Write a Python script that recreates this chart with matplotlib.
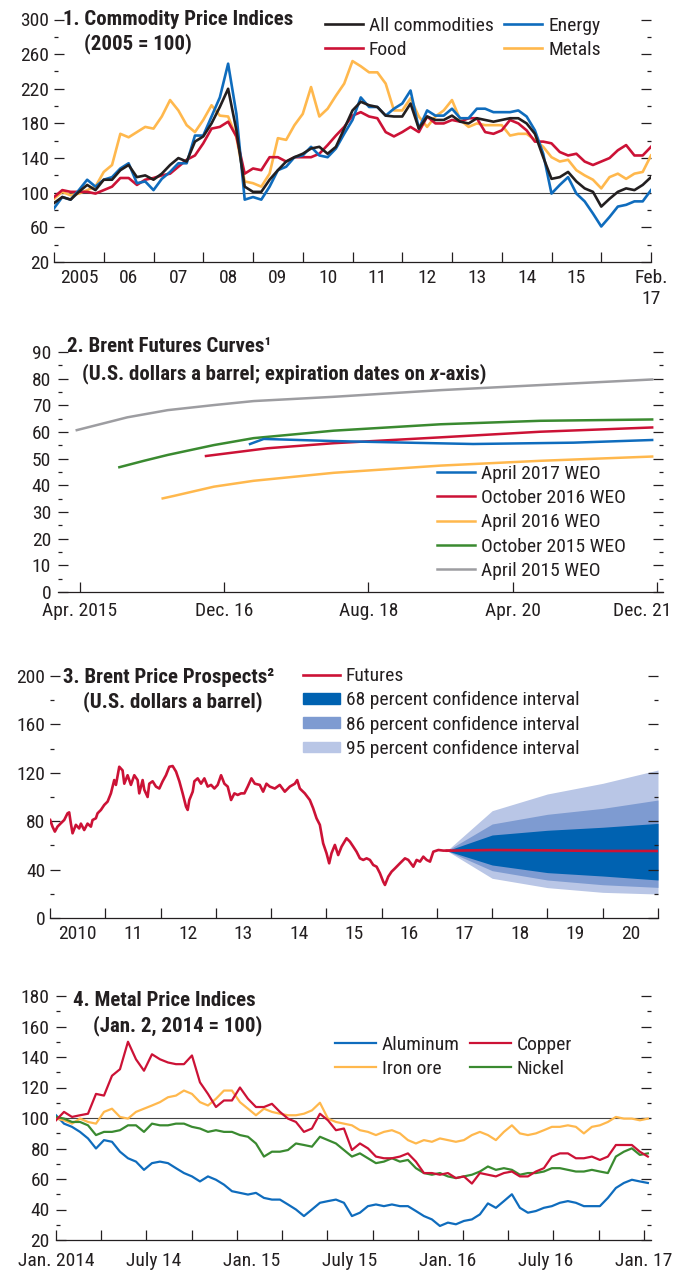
import numpy as np
import matplotlib.pyplot as plt
from matplotlib.lines import Line2D
from matplotlib.patches import Patch

plt.rcParams['font.family'] = ['Roboto Condensed', 'Liberation Sans Narrow',
                               'Liberation Sans', 'DejaVu Sans']
plt.rcParams['font.stretch'] = 'condensed'
plt.rcParams['font.size'] = 14
for k in ('text.color', 'xtick.color', 'ytick.color', 'axes.edgecolor'):
    plt.rcParams[k] = '#231f20'

BLACK = '#231f20'
BLUE = '#0f6cbd'
RED = '#cc1236'
YELLOW = '#ffb84d'
GREEN = '#3a8a30'
GRAY = '#9d9da1'
FAN68 = '#0062b1'
FAN86 = '#7e9bd1'
FAN95 = '#b9c6e6'
FS = 14      # tick and legend text
TFS = 15     # panel titles

# ---- panel 1: commodity price indices, every two months 2005 - Jan 2017
x1 = 2005 + np.arange(73) / 6
all_commod = [88, 95, 92, 101, 109, 103, 115, 115, 126, 132, 118, 120, 115, 122, 132, 140,
              136, 159, 165, 180, 199, 220, 172, 107, 101, 101, 115, 126, 136, 141, 145, 151,
              153, 145, 153, 174, 195, 205, 201, 199, 189, 188, 188, 203, 174, 188, 184, 184,
              189, 182, 180, 186, 184, 182, 184, 186, 186, 180, 168, 141, 116, 118, 124, 113,
              105, 101, 84, 93, 101, 105, 103, 109, 118]
energy = [82, 95, 92, 103, 115, 107, 115, 118, 128, 134, 111, 113, 103, 116, 124, 134,
          134, 166, 166, 188, 210, 249, 191, 92, 95, 92, 107, 126, 130, 141, 143, 153,
          143, 141, 151, 168, 184, 210, 199, 199, 189, 197, 203, 218, 174, 195, 189, 189,
          197, 186, 186, 197, 197, 193, 193, 193, 195, 188, 172, 145, 99, 109, 118, 99,
          90, 76, 61, 72, 84, 86, 90, 90, 103]
food = [95, 103, 101, 101, 101, 99, 103, 107, 117, 117, 109, 115, 117, 120, 122, 130,
        138, 143, 157, 174, 176, 182, 165, 122, 128, 126, 141, 141, 136, 141, 141, 141,
        145, 155, 166, 176, 189, 193, 188, 186, 170, 165, 170, 176, 170, 188, 180, 180,
        184, 182, 186, 186, 170, 168, 172, 184, 180, 172, 159, 159, 157, 147, 143, 145,
        136, 132, 136, 140, 149, 155, 143, 143, 153]
metals = [93, 101, 97, 99, 103, 107, 124, 132, 168, 164, 170, 176, 174, 188, 207, 195,
          178, 170, 184, 201, 189, 188, 164, 113, 111, 107, 122, 163, 161, 178, 191, 222,
          188, 197, 212, 226, 252, 246, 239, 239, 226, 195, 195, 209, 188, 176, 188, 195,
          207, 184, 176, 180, 178, 178, 178, 166, 168, 168, 161, 153, 141, 136, 138, 126,
          120, 115, 105, 118, 122, 116, 122, 124, 143]
p1_labels = ['2005', '06', '07', '08', '09', '10', '11', '12', '13', '14', '15']

# ---- panel 2: Brent futures curves (x = months since Jan 2015)
apr15_m = [2.6, 9.6, 15.2, 21.6, 27.1, 38.2, 53, 66.8, 82.3]
apr15_v = [60.7, 65.5, 68.2, 70.1, 71.6, 73.2, 75.7, 77.6, 79.7]
oct15_m = [8.5, 11.9, 15.2, 21.6, 27.1, 38.2, 53, 66.8, 82.3]
oct15_v = [46.8, 49.2, 51.4, 55.1, 57.7, 60.5, 62.9, 64.2, 64.7]
apr16_m = [14.5, 16, 21.6, 27.1, 38.2, 53, 66.8, 82.3]
apr16_v = [35.1, 36.0, 39.5, 41.7, 44.7, 47.4, 49.2, 50.8]
oct16_m = [20.5, 29, 38.2, 53, 66.8, 82.3]
oct16_v = [51.0, 53.9, 55.8, 58.0, 60.1, 61.7]
apr17_m = [26.6, 28.5, 38.2, 48.4, 57.5, 71.4, 82.3]
apr17_v = [55.5, 57.4, 56.6, 56.0, 55.5, 56.0, 57.0]
p2_ticks = [3, 23, 43, 63, 83]
p2_labels = ['Apr. 2015', 'Dec. 16', 'Aug. 18', 'Apr. 20', 'Dec. 21']

# ---- panel 3: Brent price and prospects
brent_t = [2010.003, 2010.045, 2010.088, 2010.136, 2010.196, 2010.257, 2010.317, 2010.347,
           2010.377, 2010.408, 2010.468, 2010.528, 2010.559, 2010.619, 2010.679, 2010.740,
           2010.770, 2010.830, 2010.860, 2010.921, 2010.981, 2011.042, 2011.102, 2011.162,
           2011.193, 2011.253, 2011.313, 2011.344, 2011.404, 2011.464, 2011.525, 2011.585,
           2011.615, 2011.676, 2011.706, 2011.766, 2011.796, 2011.857, 2011.917, 2011.978,
           2012.038, 2012.098, 2012.159, 2012.219, 2012.280, 2012.340, 2012.400, 2012.461,
           2012.491, 2012.521, 2012.582, 2012.612, 2012.672, 2012.732, 2012.793, 2012.853,
           2012.914, 2012.974, 2013.034, 2013.095, 2013.155, 2013.215, 2013.276, 2013.336,
           2013.396, 2013.457, 2013.517, 2013.577, 2013.644, 2013.705, 2013.795, 2013.856,
           2013.916, 2013.976, 2014.067, 2014.157, 2014.248, 2014.339, 2014.429, 2014.472,
           2014.520, 2014.610, 2014.701, 2014.761, 2014.822, 2014.882, 2014.942, 2015.003,
           2015.051, 2015.093, 2015.154, 2015.214, 2015.275, 2015.365, 2015.426, 2015.486,
           2015.546, 2015.607, 2015.667, 2015.728, 2015.788, 2015.848, 2015.909, 2015.969,
           2016.029, 2016.060, 2016.120, 2016.180, 2016.241, 2016.331, 2016.422, 2016.482,
           2016.573, 2016.633, 2016.694, 2016.754, 2016.814, 2016.875, 2016.935, 2017.026,
           2017.116, 2017.237]
brent_v = [81, 75.5, 71.4, 75.5, 78.3, 81, 86.5, 87.3, 78.3, 70, 77, 74, 78, 72.7, 78, 75.5,
           81, 82.4, 86.5, 89.3, 93.4, 96.2, 103, 114, 110, 125, 122, 111, 118, 110, 118, 114,
           103, 114, 106, 100, 111, 113, 108.6, 107, 113, 118, 125, 125.6, 121, 113, 103, 92,
           89.3, 97.5, 104.4, 113, 115.4, 111, 115.4, 108.6, 110, 107, 110, 118, 111, 108.6,
           97.5, 103, 101.7, 103, 103, 108.6, 115.4, 111, 110, 104.4, 111, 108.6, 107, 110,
           104.4, 108.6, 111, 114, 107, 103, 97.5, 90.7, 82.4, 77, 61.7, 53.5, 45.2, 53.5,
           60.4, 52, 59, 65.9, 63.1, 59, 54.8, 49.3, 48, 49.3, 48, 43.8, 42.4, 37, 30, 27.3,
           34.2, 38.3, 41, 45.2, 49.3, 48, 42.4, 48, 46.6, 50.7, 48, 46.6, 54.8, 56.2, 55.7,
           55.7]
fan_t = [2017.18, 2018, 2019, 2020, 2021]
futures = [55.6, 56.2, 55.9, 55.4, 55.4]
up95 = [55.6, 88.7, 102.5, 111.3, 122.3]
up86 = [55.6, 77.7, 85.7, 90.6, 97.5]
up68 = [55.6, 68.6, 72.5, 75.0, 78.2]
lo68 = [55.6, 43.8, 37.5, 34.7, 31.4]
lo86 = [55.6, 39.1, 31.4, 27.5, 25.3]
lo95 = [55.6, 32.8, 25.1, 21.2, 19.8]
p3_labels = ['2010', '11', '12', '13', '14', '15', '16', '17', '18', '19', '20']

# ---- panel 4: metal price indices, roughly every 15 days from Jan. 2, 2014
x4 = np.linspace(2014.0, 2017.02, 75)
aluminum = [101.8, 96.3, 94.2, 90.9, 86.6, 80, 85.5, 84.4, 77.9, 73.6, 71.4, 66, 70.4, 71.4,
            70.4, 67.1, 63.9, 61.7, 58.4, 61.7, 59.5, 56.3, 52, 50.9, 49.8, 50.9, 47.6, 46.5,
            46.5, 43.3, 40, 35.7, 40, 44.4, 45.5, 46.5, 44.4, 35.7,
            37.9, 42.2, 43.3, 42.2, 43.3, 42.2, 42.2, 39, 35.7, 33.5, 29.2, 31.4, 30.3, 32.5,
            33.5, 36.8, 44, 41.1, 45.5, 50, 41.1, 37.9, 39, 41.1, 42.2, 44.4, 45.5, 44.4,
            42.2, 42.2, 42.2, 47.6, 54.1, 57.4, 59.5, 58.4, 57.4]
copper = [98.5, 104, 100.7, 101.8, 102.8, 115.8, 114.7, 127.7, 132, 150, 138.5, 131, 141.8,
          138.5, 136.4, 135.3, 135.3, 141, 123.4, 115.8, 107.2, 111.5, 111.5, 120, 112.6,
          107.2, 107.2, 109.3, 104, 99.6, 97.4, 90.9, 93.1, 102.8, 98.5, 92, 93.1, 79,
          83.3, 80.1, 74.7, 73.6, 73.6, 74.7, 76.8, 71.4, 63.9, 63.9, 62.8, 63.9, 60.6, 61.7,
          57, 63.9, 62.8, 61.7, 63.9, 64.9, 61.7, 61.7, 64.9, 67.1, 74.7, 76.8, 76.8, 73.6,
          73.6, 74.7, 72.5, 74.7, 82.3, 82.3, 82.3, 77.9, 74.7]
iron_ore = [99.6, 98.5, 96.3, 99.6, 97.4, 96.3, 104, 106.1, 100.7, 99.6, 104, 106.1, 108.2,
            110.4, 113.6, 114.7, 118, 115.8, 110.4, 108.2, 112.6, 118, 118, 110.4, 106.1,
            101.8, 106.1, 104, 102.8, 101.8, 101.8, 102.8, 105, 110, 99.6, 97.4, 96.3, 95.2,
            92, 90.9, 88.8, 90.9, 92, 89.9, 85.5, 83.3, 85.5, 84.4, 86.6, 85.5, 84.4, 85.5,
            88.8, 90.9, 88.8, 85.5, 90.9, 95.2, 89.9, 88.8, 89.9, 92, 94.2, 94.2, 95.2, 94.2,
            89.9, 94.2, 95.2, 97.4, 100.7, 99.6, 99.6, 98.5, 99.6]
nickel = [100.7, 99.6, 97.4, 97.4, 95.2, 88.8, 90.9, 90.9, 92, 95.2, 95.2, 90.9, 96.3, 95.2,
          95.2, 96.3, 96.3, 94.2, 93.1, 90.9, 92, 90.9, 90.9, 88.8, 87.7, 83.3, 74.7, 77.9,
          77.9, 79, 83.3, 82.3, 81.2, 87.7, 85.5, 83.3, 79, 74.7,
          76.8, 73.6, 70.4, 71.4, 73.6, 71.4, 72.5, 67.1, 63.9, 62.8, 63.9, 61.7, 60.6, 61.7,
          62.8, 64.9, 68.2, 66, 67.1, 66, 62.8, 63.9, 63.9, 64.9, 67.1, 67.1, 66, 64.9, 64.9,
          66, 64.9, 63.9, 74.7, 77.9, 80.1, 75.8, 76.8]
p4_labels = ['Jan. 2014', 'July 14', 'Jan. 15', 'July 15', 'Jan. 16', 'July 16', 'Jan. 17']

W, H = 678, 1272
fig = plt.figure(figsize=(W / 100, H / 100), dpi=100)


def box(l, t, r, b):
    return [l / W, 1 - b / H, (r - l) / W, (b - t) / H]


def fpt(x, y):
    return (x / W, 1 - y / H)


def setup(ax, ylim, ymaj, ymin, ypad, xpad):
    ax.set_ylim(*ylim)
    for s in ('left', 'right', 'top'):
        ax.spines[s].set_visible(False)
    ax.spines['bottom'].set_linewidth(0.9)
    ax.set_yticks(ymaj)
    ax.set_yticks(ymin, minor=True)
    ax.xaxis.remove_overlapping_locs = False
    ax.tick_params(axis='y', which='both', direction='in', left=True, right=True,
                   width=0.9, pad=ypad, labelsize=FS)
    ax.tick_params(axis='y', which='major', length=7)
    ax.tick_params(axis='y', which='minor', length=3)
    ax.tick_params(axis='x', which='major', direction='in', length=7, width=0.9,
                   pad=xpad, labelsize=FS)
    ax.tick_params(axis='x', which='minor', length=0, pad=xpad, labelsize=FS)
    ax.patch.set_alpha(0)


def title(x, y1, y2, t1, t2, x2):
    fig.text(x / W, 1 - y1 / H, t1, fontweight='bold', va='baseline', fontsize=TFS)
    return fig.text(x2 / W, 1 - y2 / H, t2, fontweight='bold', va='baseline', fontsize=TFS)


leg_kw = dict(loc='upper left', bbox_transform=fig.transFigure, frameon=False,
              borderpad=0, borderaxespad=0, handletextpad=0.3, fontsize=FS)

# ================= panel 1
ax1 = fig.add_axes(box(54, 19.5, 651, 262))
setup(ax1, (20, 300), range(20, 301, 40), range(40, 300, 40), 3.5, 5)
ax1.set_xlim(2005, 2017.0)
ax1.axhline(100, color='#444444', lw=0.8, zorder=1)
lm, = ax1.plot(x1, metals, color=YELLOW, lw=1.9)
lf, = ax1.plot(x1, food, color=RED, lw=1.9)
le, = ax1.plot(x1, energy, color=BLUE, lw=1.9)
la, = ax1.plot(x1, all_commod, color=BLACK, lw=1.9)
ax1.set_xticks(list(range(2005, 2017)) + [2017.0],
               labels=[''] * 12 + ['Feb.\n17'])
ax1.set_xticks([y + 0.5 for y in range(2005, 2016)], labels=p1_labels, minor=True)
ax1.legend([la, lf, le, lm], ['All commodities', 'Food', 'Energy', 'Metals'], ncol=2,
           bbox_to_anchor=fpt(325, 17), handlelength=1.95, columnspacing=0.55,
           labelspacing=0.3, **leg_kw)
title(63, 25, 49, '1. Commodity Price Indices', '(2005 = 100)', 84)

# ================= panel 2
ax2 = fig.add_axes(box(58, 352, 663, 592))
setup(ax2, (0, 90), range(0, 91, 10), range(5, 90, 10), 5, 7)
ax2.set_xlim(0, 83.8)
ax2.plot(apr15_m, apr15_v, color=GRAY, lw=1.8, label='April 2015 WEO')
ax2.plot(oct15_m, oct15_v, color=GREEN, lw=1.8, label='October 2015 WEO')
ax2.plot(apr16_m, apr16_v, color=YELLOW, lw=1.8, label='April 2016 WEO')
ax2.plot(oct16_m, oct16_v, color=RED, lw=1.8, label='October 2016 WEO')
ax2.plot(apr17_m, apr17_v, color=BLUE, lw=1.8, label='April 2017 WEO')
ax2.set_xticks(p2_ticks, labels=p2_labels[:-1] + [''])
ax2.text(80.9, -0.04, p2_labels[-1], transform=ax2.get_xaxis_transform(),
         ha='center', va='top', fontsize=FS)
h, l = ax2.get_legend_handles_labels()
ax2.legend(h[::-1], l[::-1], bbox_to_anchor=fpt(437, 465), handlelength=1.95,
           labelspacing=0.32, **leg_kw)
t2 = title(67, 352, 379, '2. Brent Futures Curves\u00b9',
           '(U.S. dollars a barrel; expiration dates on ', 82)
tx = ax2.annotate('x', xy=(1, 0), xycoords=t2, va='bottom', ha='left', fontsize=TFS,
                  fontweight='bold', style='italic', annotation_clip=False)
ax2.annotate('-axis)', xy=(1, 0), xycoords=tx, va='bottom', ha='left', fontsize=TFS,
             fontweight='bold', annotation_clip=False)

# ================= panel 3
ax3 = fig.add_axes(box(50, 676, 658, 918))
setup(ax3, (0, 200), range(0, 201, 40), range(20, 200, 40), 3.5, 5)
ax3.set_xlim(2010, 2021)
ax3.fill_between(fan_t, lo95, up95, color=FAN95, lw=0)
ax3.fill_between(fan_t, lo86, up86, color=FAN86, lw=0)
ax3.fill_between(fan_t, lo68, up68, color=FAN68, lw=0)
ax3.plot(brent_t, brent_v, color=RED, lw=1.9)
ax3.plot(fan_t, futures, color=RED, lw=1.9)
ax3.set_xticks(range(2010, 2022), labels=[''] * 12)
ax3.set_xticks([y + 0.5 for y in range(2010, 2021)], labels=p3_labels, minor=True)
ax3.legend([Line2D([], [], color=RED, lw=1.9), Patch(color=FAN68), Patch(color=FAN86),
            Patch(color=FAN95)],
           ['Futures', '68 percent confidence interval', '86 percent confidence interval',
            '95 percent confidence interval'],
           bbox_to_anchor=fpt(303, 667), handlelength=1.9, handleheight=0.45,
           labelspacing=0.32, **leg_kw)
title(63, 683, 707, '3. Brent Price Prospects\u00b2', '(U.S. dollars a barrel)', 83)

# ================= panel 4
ax4 = fig.add_axes(box(56, 996, 651, 1240))
setup(ax4, (20, 180), range(20, 181, 20), range(30, 180, 20), 4.5, 8.5)
ax4.set_xlim(2014.0, 2017.036)
ax4.axhline(100, color='#444444', lw=0.8, zorder=1)
l_al, = ax4.plot(x4, aluminum, color=BLUE, lw=1.6)
l_fe, = ax4.plot(x4, iron_ore, color=YELLOW, lw=1.6)
l_ni, = ax4.plot(x4, nickel, color=GREEN, lw=1.6)
l_cu, = ax4.plot(x4, copper, color=RED, lw=1.6)
ax4.set_xticks([2014 + k * 3 / 13 for k in range(14)], labels=[''] * 14)
ax4.set_xticks([2014 + k * 0.5 for k in range(7)], labels=p4_labels, minor=True)
ax4.legend([l_al, l_fe, l_cu, l_ni], ['Aluminum', 'Iron ore', 'Copper', 'Nickel'], ncol=2,
           bbox_to_anchor=fpt(335, 1036), handlelength=2.1, columnspacing=0.55,
           labelspacing=0.3, **leg_kw)
title(73, 1006, 1031, '4. Metal Price Indices', '(Jan. 2, 2014 = 100)', 93)

fig.savefig('out.png', dpi=100)
